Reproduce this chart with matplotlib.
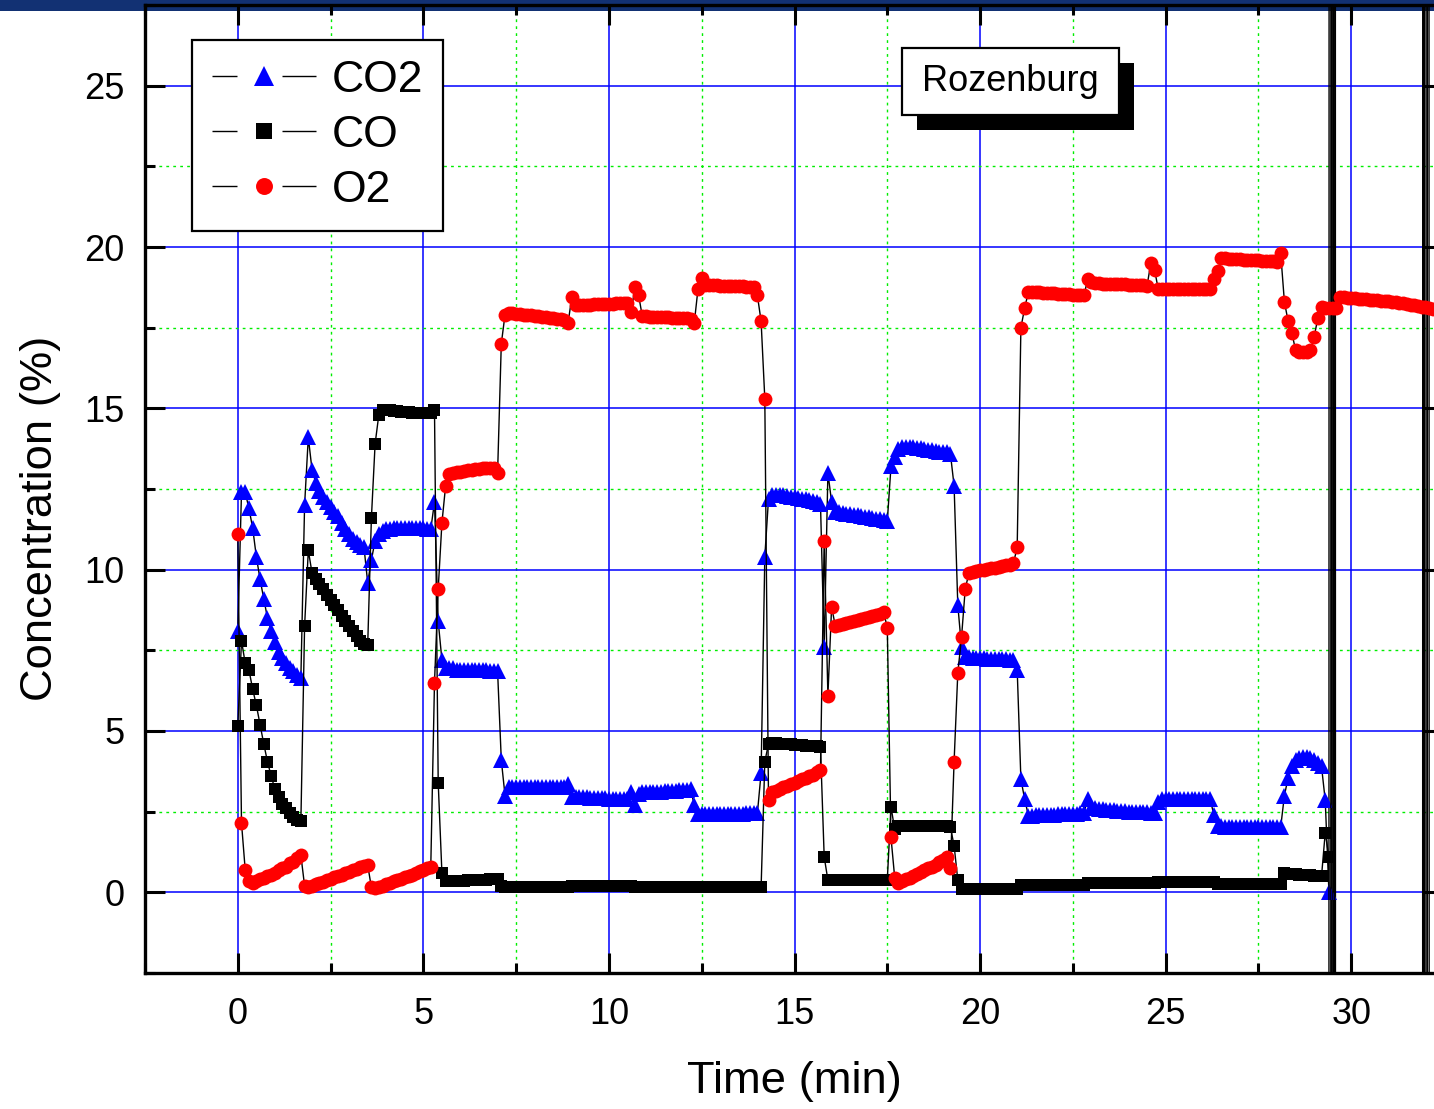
import numpy as np
import matplotlib
matplotlib.use("Agg")
import matplotlib.pyplot as plt
from matplotlib.lines import Line2D
from matplotlib.patches import Rectangle
from matplotlib.legend_handler import HandlerTuple
from matplotlib.ticker import MultipleLocator

plt.rcParams['font.family'] = ['Liberation Sans', 'DejaVu Sans']

STEP = 0.1  # logger interval, min

co2 = [
    8.1, 12.4, 12.4, 11.9, 11.3, 10.4, 9.7, 9.1, 8.5, 8.1,
    7.75, 7.45, 7.25, 7.1, 6.95, 6.85, 6.75, 6.65, 12.0, 14.1,
    13.1, 12.7, 12.45, 12.25, 12.1, 11.95, 11.8, 11.65, 11.45, 11.25,
    11.1, 10.95, 10.85, 10.75, 10.7, 9.6, 10.3, 10.9, 11.1, 11.2,
    11.25, 11.25, 11.3, 11.3, 11.3, 11.3, 11.3, 11.3, 11.3, 11.3,
    11.3, 11.25, 11.25, 12.1, 8.4, 7.2, 6.95, 6.95, 6.95, 6.9,
    6.9, 6.9, 6.9, 6.9, 6.9, 6.9, 6.88, 6.88, 6.87, 6.87,
    6.85, 4.1, 3.0, 3.25, 3.25, 3.25, 3.25, 3.25, 3.25, 3.25,
    3.25, 3.25, 3.25, 3.25, 3.25, 3.25, 3.25, 3.25, 3.25, 3.35,
    2.97, 2.96, 2.95, 2.95, 2.94, 2.93, 2.93, 2.92, 2.92, 2.91,
    2.9, 2.9, 2.89, 2.89, 2.88, 2.88, 3.1, 2.7, 3.05, 3.1,
    3.1, 3.1, 3.1, 3.12, 3.12, 3.13, 3.14, 3.15, 3.15, 3.16,
    3.17, 3.18, 3.2, 2.7, 2.42, 2.42, 2.42, 2.42, 2.43, 2.43,
    2.43, 2.43, 2.43, 2.44, 2.44, 2.44, 2.44, 2.45, 2.45, 2.45,
    2.45, 3.7, 10.4, 12.2, 12.3, 12.3, 12.3, 12.3, 12.28, 12.26,
    12.25, 12.23, 12.2, 12.18, 12.15, 12.12, 12.1, 12.05, 7.6, 13.0,
    12.1, 11.8, 11.78, 11.76, 11.74, 11.72, 11.7, 11.68, 11.66, 11.64,
    11.62, 11.6, 11.58, 11.56, 11.54, 11.5, 13.2, 13.5, 13.75, 13.8,
    13.8, 13.8, 13.8, 13.78, 13.76, 13.74, 13.72, 13.7, 13.68, 13.66,
    13.65, 13.65, 13.6, 12.6, 8.9, 7.6, 7.3, 7.28, 7.27, 7.26,
    7.25, 7.25, 7.24, 7.24, 7.23, 7.23, 7.22, 7.22, 7.21, 7.2,
    6.9, 3.5, 2.9, 2.38, 2.38, 2.39, 2.39, 2.4, 2.4, 2.41,
    2.41, 2.42, 2.42, 2.43, 2.43, 2.44, 2.44, 2.45, 2.46, 2.9,
    2.62, 2.6, 2.58, 2.57, 2.56, 2.55, 2.54, 2.53, 2.52, 2.51,
    2.5, 2.5, 2.49, 2.49, 2.48, 2.48, 2.47, 2.46, 2.8, 2.88,
    2.9, 2.9, 2.9, 2.9, 2.9, 2.9, 2.9, 2.9, 2.9, 2.9,
    2.9, 2.9, 2.88, 2.4, 2.05, 2.05, 2.04, 2.04, 2.03, 2.03,
    2.02, 2.02, 2.02, 2.02, 2.02, 2.02, 2.02, 2.02, 2.02, 2.02,
    2.02, 2.02, 3.0, 3.55, 3.9, 4.1, 4.15, 4.2, 4.2, 4.15,
    4.1, 4.0, 3.9, 2.85, 0.0,
]

co = [
    5.15, 7.8, 7.1, 6.9, 6.3, 5.8, 5.2, 4.6, 4.05, 3.6,
    3.2, 2.95, 2.75, 2.6, 2.45, 2.35, 2.25, 2.2, 8.25, 10.6,
    9.9, 9.7, 9.55, 9.4, 9.2, 9.05, 8.9, 8.75, 8.55, 8.4,
    8.25, 8.1, 7.95, 7.8, 7.7, 7.65, 11.6, 13.9, 14.8, 14.95,
    14.95, 14.95, 14.93, 14.92, 14.9, 14.9, 14.88, 14.87, 14.86, 14.85,
    14.85, 14.85, 14.85, 14.95, 3.4, 0.6, 0.35, 0.35, 0.35, 0.35,
    0.36, 0.36, 0.37, 0.37, 0.37, 0.38, 0.38, 0.39, 0.4, 0.4,
    0.42, 0.2, 0.18, 0.17, 0.17, 0.17, 0.17, 0.17, 0.17, 0.17,
    0.17, 0.17, 0.17, 0.17, 0.17, 0.17, 0.17, 0.17, 0.18, 0.18,
    0.19, 0.19, 0.19, 0.19, 0.19, 0.19, 0.19, 0.19, 0.19, 0.19,
    0.19, 0.19, 0.19, 0.19, 0.19, 0.19, 0.19, 0.18, 0.17, 0.17,
    0.17, 0.17, 0.17, 0.17, 0.17, 0.17, 0.17, 0.17, 0.17, 0.17,
    0.16, 0.16, 0.15, 0.15, 0.15, 0.15, 0.15, 0.15, 0.15, 0.15,
    0.15, 0.15, 0.15, 0.15, 0.15, 0.15, 0.15, 0.15, 0.15, 0.15,
    0.15, 0.15, 4.05, 4.6, 4.62, 4.62, 4.61, 4.6, 4.6, 4.59,
    4.58, 4.57, 4.56, 4.55, 4.54, 4.53, 4.52, 4.5, 1.1, 0.38,
    0.38, 0.38, 0.38, 0.38, 0.38, 0.38, 0.38, 0.38, 0.38, 0.38,
    0.38, 0.38, 0.38, 0.38, 0.38, 0.38, 2.65, 1.95, 2.05, 2.05,
    2.05, 2.05, 2.05, 2.05, 2.05, 2.05, 2.05, 2.05, 2.05, 2.05,
    2.05, 2.05, 2.02, 1.45, 0.38, 0.1, 0.1, 0.1, 0.1, 0.1,
    0.1, 0.1, 0.1, 0.1, 0.1, 0.1, 0.1, 0.1, 0.1, 0.1,
    0.1, 0.22, 0.22, 0.22, 0.22, 0.22, 0.22, 0.22, 0.22, 0.22,
    0.22, 0.22, 0.22, 0.22, 0.22, 0.22, 0.22, 0.22, 0.22, 0.28,
    0.28, 0.28, 0.28, 0.28, 0.28, 0.28, 0.28, 0.28, 0.28, 0.28,
    0.28, 0.28, 0.28, 0.28, 0.28, 0.28, 0.28, 0.28, 0.33, 0.33,
    0.33, 0.33, 0.33, 0.33, 0.33, 0.33, 0.33, 0.33, 0.33, 0.33,
    0.33, 0.33, 0.33, 0.33, 0.27, 0.27, 0.27, 0.27, 0.27, 0.27,
    0.27, 0.27, 0.27, 0.27, 0.27, 0.27, 0.27, 0.27, 0.27, 0.27,
    0.27, 0.27, 0.6, 0.58, 0.57, 0.56, 0.55, 0.55, 0.54, 0.53,
    0.52, 0.52, 0.5, 1.85, 1.1,
]

o2 = [
    11.1, 2.15, 0.7, 0.35, 0.3, 0.35, 0.4, 0.45, 0.5, 0.55,
    0.6, 0.7, 0.75, 0.8, 0.9, 0.95, 1.05, 1.15, 0.2, 0.15,
    0.2, 0.25, 0.3, 0.33, 0.37, 0.42, 0.46, 0.5, 0.55, 0.6,
    0.64, 0.68, 0.72, 0.77, 0.82, 0.85, 0.15, 0.12, 0.15, 0.2,
    0.25, 0.3, 0.35, 0.38, 0.42, 0.46, 0.5, 0.55, 0.6, 0.65,
    0.7, 0.75, 0.8, 6.5, 9.4, 11.45, 12.6, 12.95, 13.0, 13.02,
    13.04, 13.06, 13.08, 13.1, 13.12, 13.13, 13.14, 13.15, 13.15, 13.16,
    13.0, 17.0, 17.9, 17.95, 17.95, 17.93, 17.92, 17.9, 17.9, 17.88,
    17.86, 17.85, 17.84, 17.82, 17.8, 17.8, 17.78, 17.76, 17.75, 17.65,
    18.45, 18.2, 18.2, 18.2, 18.2, 18.21, 18.22, 18.22, 18.23, 18.23,
    18.24, 18.24, 18.25, 18.25, 18.25, 18.25, 18.0, 18.75, 18.5, 17.85,
    17.85, 17.84, 17.84, 17.83, 17.83, 17.82, 17.82, 17.81, 17.8, 17.8,
    17.8, 17.79, 17.78, 17.65, 18.7, 19.05, 18.82, 18.82, 18.81, 18.81,
    18.8, 18.8, 18.8, 18.79, 18.79, 18.78, 18.78, 18.77, 18.76, 18.75,
    18.5, 17.7, 15.3, 2.85, 3.1, 3.15, 3.2, 3.25, 3.3, 3.35,
    3.4, 3.45, 3.5, 3.55, 3.6, 3.65, 3.72, 3.8, 10.9, 6.1,
    8.85, 8.25, 8.28, 8.31, 8.34, 8.37, 8.4, 8.43, 8.46, 8.5,
    8.53, 8.57, 8.6, 8.64, 8.7, 8.2, 1.7, 0.45, 0.3, 0.35,
    0.4, 0.45, 0.5, 0.56, 0.62, 0.68, 0.74, 0.8, 0.86, 0.93,
    1.0, 1.08, 0.75, 4.05, 6.8, 7.9, 9.4, 9.9, 9.93, 9.96,
    9.98, 10.0, 10.02, 10.04, 10.06, 10.08, 10.1, 10.13, 10.16, 10.2,
    10.7, 17.5, 18.1, 18.6, 18.6, 18.6, 18.6, 18.58, 18.58, 18.57,
    18.56, 18.55, 18.55, 18.54, 18.53, 18.52, 18.52, 18.51, 18.5, 19.0,
    18.9, 18.88, 18.87, 18.86, 18.86, 18.85, 18.85, 18.85, 18.84, 18.84,
    18.83, 18.83, 18.82, 18.82, 18.82, 18.8, 19.5, 19.3, 18.7, 18.7,
    18.7, 18.7, 18.7, 18.7, 18.7, 18.7, 18.7, 18.7, 18.7, 18.7,
    18.7, 18.7, 18.7, 19.0, 19.25, 19.65, 19.65, 19.64, 19.63, 19.62,
    19.62, 19.61, 19.6, 19.6, 19.6, 19.6, 19.58, 19.58, 19.57, 19.56,
    19.55, 19.8, 18.3, 17.7, 17.35, 16.8, 16.75, 16.75, 16.75, 16.8,
    17.2, 17.8, 18.15, 18.12, 18.1, 18.1, 18.12, 18.45, 18.44, 18.43,
    18.42, 18.41, 18.4, 18.39, 18.38, 18.37, 18.36, 18.35, 18.34, 18.33,
    18.32, 18.3, 18.29, 18.27, 18.25, 18.23, 18.21, 18.19, 18.17, 18.15,
    18.13, 18.11, 18.09, 18.07, 18.06, 18.05,
]

# off-scale readings after the probe was pulled (they run off the axes)
co2_spike_t = [29.45, 29.5, 29.55, 29.6, 31.9, 31.95, 32.0, 32.1]
co2_spike = [400, -400, 400, -400, -400, 400, -400, 400]
co_spike_t = [29.42, 29.48, 29.53, 29.58, 31.92, 31.98, 32.05, 32.15]
co_spike = [-400, 400, -400, 400, 400, -400, 400, -400]

t_co2 = np.concatenate([np.arange(len(co2)) * STEP, co2_spike_t])
v_co2 = np.concatenate([co2, co2_spike])
t_co = np.concatenate([np.arange(len(co)) * STEP, co_spike_t])
v_co = np.concatenate([co, co_spike])
t_o2 = np.arange(len(o2)) * STEP

W, H = 1434, 1109
fig = plt.figure(figsize=(W / 100, H / 100), dpi=100)
fig.add_artist(Rectangle((0, 1 - 11 / H), 1, 11 / H, transform=fig.transFigure,
                         fc='#123173', ec='none', zorder=-1))

ax = fig.add_axes([145 / W, 136 / H, 1299 / W, 968 / H])
ax.set_facecolor('none')

series = [
    ('CO2', t_co2, v_co2, '^', 'blue', 11.5),
    ('CO', t_co, v_co, 's', 'black', 9),
    ('O2', t_o2, o2, 'o', 'red', 10),
]
for name, t, v, mk, col, ms in series:
    ax.plot(t, v, color='black', lw=1.0, marker=mk, mfc=col, mec=col,
            mew=0, ms=ms, zorder=3)

ax.set_xlim(-2.5, 32.5)
ax.set_ylim(-2.5, 27.5)
ax.xaxis.set_major_locator(MultipleLocator(5))
ax.xaxis.set_minor_locator(MultipleLocator(2.5))
ax.yaxis.set_major_locator(MultipleLocator(5))
ax.yaxis.set_minor_locator(MultipleLocator(2.5))
ax.set_axisbelow(True)
ax.grid(which='major', color='#0000ff', lw=1.1, ls='-')
ax.grid(which='minor', color='#00ee00', lw=1.0, ls=(0, (2, 3)))

ax.tick_params(which='both', direction='in', top=True, right=True, width=2.2,
               labelsize=26)
ax.tick_params(which='major', length=14.4)
ax.tick_params(which='minor', length=7.2)
ax.tick_params(axis='x', pad=17)
ax.tick_params(axis='y', pad=15)
for sp in ax.spines.values():
    sp.set_linewidth(2.4)

ax.set_xlabel('Time (min)', fontsize=32.7)
ax.xaxis.set_label_coords(0.5, -0.091)
ax.set_ylabel('Concentration (%)', fontsize=32.7)
ax.yaxis.set_label_coords(-0.0647, 0.47)

# legend: line - marker - line
handles = []
for name, t, v, mk, col, ms in series:
    seg = Line2D([], [], color='black', lw=1.0, linestyle=(0, (18, 32.4, 60, 1)))
    dot = Line2D([], [], ls='none', marker=mk, mfc=col, mec=col, mew=0,
                 ms={'^': 14.5, 's': 11.5, 'o': 12.2}[mk])
    handles.append((seg, dot))
leg = ax.legend(handles, [s[0] for s in series], loc='upper left',
                bbox_to_anchor=((192 - 145) / 1299, (973 - 40) / 968),
                borderaxespad=0, fontsize=32, handlelength=2.34,
                handletextpad=0.35, labelspacing=0.31, borderpad=0.45,
                fancybox=False, framealpha=1, edgecolor='black',
                handler_map={tuple: HandlerTuple(ndivide=1, pad=0)})
leg.get_frame().set_linewidth(1.6)

# site label box with drop shadow
bx, by, bw, bh = (902 - 145) / 1299, (973 - 115) / 968, 217 / 1299, 67 / 968
ax.add_patch(Rectangle((bx + 15 / 1299, by - 15 / 968), bw, bh, transform=ax.transAxes,
                       fc='black', ec='black', lw=0, zorder=5, clip_on=False))
ax.add_patch(Rectangle((bx, by), bw, bh, transform=ax.transAxes,
                       fc='white', ec='black', lw=1.6, zorder=6, clip_on=False))
ax.text(bx + bw / 2, by + bh / 2, 'Rozenburg', transform=ax.transAxes,
        ha='center', va='center', fontsize=26, zorder=7)

fig.savefig('out.png', dpi=100)
